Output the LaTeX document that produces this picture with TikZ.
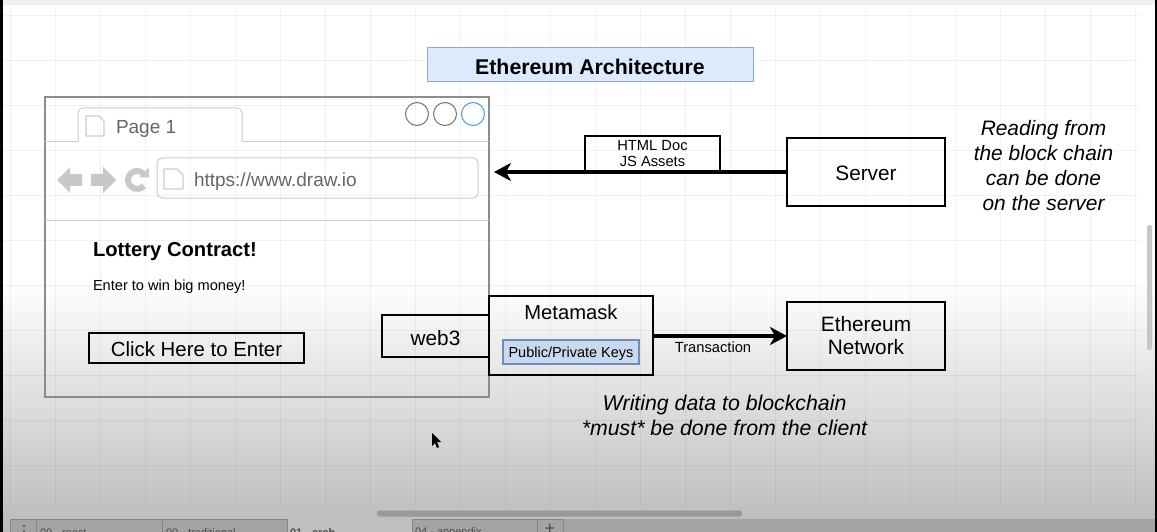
\documentclass[tikz,border=0pt]{standalone}
\usepackage{fontspec}
\setmainfont{Liberation Sans}
\usepackage{xcolor}
\usetikzlibrary{arrows.meta, positioning, calc}
\definecolor{TitleBlue}{HTML}{DDEAFC}
\definecolor{TitleEdge}{HTML}{8FA8CC}
\definecolor{KeyBlue}{HTML}{C9D8EE}
\definecolor{KeyEdge}{HTML}{6C8EBF}
\definecolor{WindowGray}{HTML}{8C8C8C}
\definecolor{ChromeGray}{HTML}{CCCCCC}
\definecolor{IconGray}{HTML}{C8C8C8}
\definecolor{TextGray}{HTML}{666666}
\definecolor{CircleBlue}{HTML}{4C9BE0}

\begin{document}
\begin{tikzpicture}[x=1pt, y=-1pt, every node/.style={inner sep=0pt, outer sep=0pt}]
      \tikzset{
        box/.style={rectangle, draw=black, line width=2.5pt, align=center, font=\fontsize{20.8}{23}\selectfont},
        small/.style={font=\fontsize{14.7}{16.5}\selectfont},
        note/.style={align=center, font=\fontsize{20.9}{25}\selectfont\itshape},
        chrome/.style={draw=ChromeGray, line width=1pt},
        docicon/.style={draw=ChromeGray, line width=1.2pt, line join=round},
        navicon/.style={fill=IconGray},
        btn/.style={circle, minimum size=23pt, line width=1pt},
        arrowline/.style={-{Stealth[length=17pt, width=18pt, inset=5pt]}, line width=3.2pt},
        tabtext/.style={anchor=west, text=black!70, font=\fontsize{11}{13}\selectfont},
        gridline/.style={draw=black, opacity=0.05, line width=0.7pt}
      }
      \useasboundingbox (0,0) rectangle (1157,532);
      \clip (0,0) rectangle (1157,532);

      % Canvas
      \fill[white] (0,0) rectangle (1157,280);
      \fill[top color=white, bottom color=black!27, shading angle=0] (0,280) rectangle (1157,532);
      \foreach \gx in {10,55,...,1135} \draw[gridline] (\gx,6) -- (\gx,506);
      \foreach \gy in {15,60,...,505} \draw[gridline] (3,\gy) -- (1140,\gy);
      \fill[black!6] (0,0) rectangle (1157,5);

      % Title
      \node[rectangle, draw=TitleEdge, fill=TitleBlue, line width=1pt, minimum width=326pt, minimum height=34pt, text height=18.5pt, text depth=0pt, font=\fontsize{21.3}{24}\selectfont\bfseries] (title) at (590,65) {Ethereum Architecture};

      % Browser window
      \draw[draw=WindowGray, line width=1.3pt] (45,97) rectangle (489,397);
      \coordinate (tabl) at (78,142);
      \coordinate (tabr) at (242,142);
      \draw[chrome] (45,142) -- (tabl);
      \draw[chrome] (tabr) -- (489,142);
      \draw[chrome, rounded corners=5pt] (tabl) -- (78,108) -- (242,108) -- (tabr);
      \draw[chrome] (45,220) -- (489,220);
      \node[btn, draw=black!55] (btna) at (417,114) {};
      \node[btn, draw=black!55] (btnb) at (445,114) {};
      \node[btn, draw=CircleBlue] (btnc) at (473,114) {};
      \draw[docicon] (86,116) -- (99,116) -- (104,121) -- (104,136) -- (86,136) -- cycle;
      \node[anchor=west, text=TextGray, font=\fontsize{19}{22}\selectfont] (page) at (116,129) {Page 1};

      % Address bar
      \node[rectangle, rounded corners=5pt, chrome, minimum width=321pt, minimum height=40pt] (url) at (317.5,178) {};
      \draw[docicon] (164,169) -- (177,169) -- (183,175) -- (183,189) -- (164,189) -- cycle;
      \node[anchor=west, text=TextGray, font=\fontsize{19}{22}\selectfont] (urltext) at (194,182) {https://www.draw.io};
      \fill[navicon] (57,180) -- (70,167) -- (70,174) -- (82,174) -- (82,186) -- (70,186) -- (70,193) -- cycle;
      \fill[navicon] (116,180) -- (103,167) -- (103,174) -- (91,174) -- (91,186) -- (103,186) -- (103,193) -- cycle;
      \draw[IconGray, line width=6pt] (143.9,174.2) arc[start angle=40, end angle=320, radius=9pt];
      \fill[navicon] (139,177.5) -- (149,177.5) -- (149,167.5) -- cycle;

      % Page
      \node[anchor=west, font=\fontsize{20.2}{24}\selectfont\bfseries] (lottery) at (93,252) {Lottery Contract!};
      \node[anchor=west, font=\fontsize{14.6}{17}\selectfont] (enter) at (93,286.5) {Enter to win big money!};
      \node[box, minimum width=215pt, minimum height=30pt, text height=17.5pt, text depth=0pt, font=\fontsize{20.4}{24}\selectfont] (click) at (196.5,348) {Click Here to Enter};

      % Boxes on the client side
      \node[box, minimum width=107pt, minimum height=42pt, text height=18pt, text depth=0pt] (web3) at (435.5,336) {web3};
      \node[box, minimum width=164pt, minimum height=79pt] (metamask) at (571,335.5) {};
      \node[font=\fontsize{20.2}{24}\selectfont] (metalabel) at (571,312.5) {Metamask};
      \node[rectangle, draw=KeyEdge, fill=KeyBlue, line width=1.5pt, minimum width=136pt, minimum height=24pt, text height=11.5pt, text depth=0pt, font=\fontsize{14.5}{17}\selectfont] (keys) at (571,352) {Public/Private Keys};
      \node[box, minimum width=158pt, minimum height=68pt] (ethereum) at (866,336) {Ethereum\\Network};
      \node[box, minimum width=158pt, minimum height=68pt, text height=17pt, text depth=0pt] (server) at (866,172) {Server};

      % Connections
      \coordinate (serverhit) at (494,172);
      \draw[arrowline] (server.west) -- (serverhit);
      \draw[arrowline] (metamask.east |- ethereum.west) -- (ethereum.west);
      \node[box, small, minimum width=135pt, minimum height=35pt, line width=2.4pt] (assets) at (652.5,153.5) {HTML Doc\\JS Assets};
      \node[small] (transaction) at (713,347) {Transaction};

      % Notes
      \node[note] (readnote) at (1043.5,165.5) {Reading from\\the block chain\\can be done\\on the server};
      \node[note, font=\fontsize{21.3}{25}\selectfont\itshape] (writenote) at (724.5,415.5) {Writing data to blockchain\\*must* be done from the client};

      % Pointer
      \fill[black] (432,433) -- (432,446) -- (435,443) -- (437,448) -- (439,447) -- (437,442) -- (441,442) -- cycle;

      % Scrollbars
      \node[rectangle, rounded corners=2.5pt, fill=black!40, minimum width=365pt, minimum height=6pt] (hscroll) at (559.5,513.5) {};
      \node[rectangle, rounded corners=2pt, fill=black!22, minimum width=5pt, minimum height=125pt] (vscroll) at (1149.5,287.5) {};

      % Sheet tabs
      \fill[black!36] (10,519) rectangle (1155,532);
      \fill[black!25] (287,519) rectangle (412,532);
      \foreach \tx in {10,36,162,287,412,537,563} \draw[black!48, line width=0.7pt] (\tx,519) -- (\tx,532);
      \draw[black!48, line width=0.7pt] (10,519) -- (287,519) (412,519) -- (563,519);
      \fill[black!60] (24,526) circle[radius=1.3pt] (24,531) circle[radius=1.3pt];
      \node[tabtext] (taba) at (40,532.5) {00 - react};
      \node[tabtext] (tabb) at (166,532.5) {00 - traditional};
      \node[tabtext, font=\fontsize{11}{13}\selectfont\bfseries] (tabc) at (290,532.5) {01 - arch};
      \node[tabtext] (tabd) at (415,532.5) {04 - appendix};
      \node[tabtext, anchor=center, font=\fontsize{18}{20}\selectfont] (tabplus) at (550,529) {+};

      % Screen edges
      \fill[black] (0,0) rectangle (2.5,532);
      \fill[black] (1155,0) rectangle (1157,532);
    \end{tikzpicture}
\end{document}
